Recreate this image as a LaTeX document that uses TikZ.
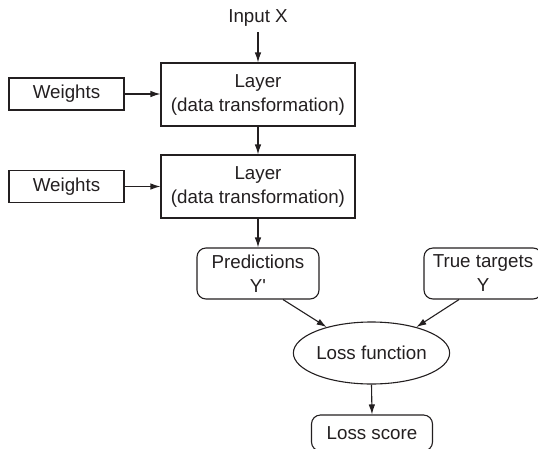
\documentclass[tikz,border=0pt]{standalone}
\usepackage{fontspec}
\setmainfont{Liberation Sans}[Ligatures=TeXOff]
\usetikzlibrary{shapes.geometric,arrows.meta}
\definecolor{ink}{HTML}{231F20}
\begin{document}
\begin{tikzpicture}[x=1pt,y=-1pt,
  every node/.style={font=\fontsize{18.75}{24}\selectfont, text=ink, inner sep=0pt, align=center},
  sqbox/.style={draw=ink, line width=1.1pt, rectangle},
  rbox/.style={draw=ink, line width=1.1pt, rectangle, rounded corners=9pt},
  arr/.style={draw=ink, line width=1.1pt, -{Latex[length=10pt,width=6.5pt]}}]
\clip (0,0) rectangle (538,448);
\node (in) at (258,18) {Input X};
\node[sqbox, minimum width=194pt, minimum height=63pt] (l1) at (258,94.5) {Layer\\(data transformation)};
\node[sqbox, minimum width=194pt, minimum height=63pt] (l2) at (258,186.5) {Layer\\(data transformation)};
\node[sqbox, minimum width=115pt, minimum height=32pt] (w1) at (66.5,94) {Weights};
\node[sqbox, minimum width=115pt, minimum height=32pt] (w2) at (66.5,186.5) {Weights};
\node[rbox, minimum width=122pt, minimum height=51pt] (pr) at (258,273.5) {Predictions\\Y'};
\node[rbox, minimum width=118pt, minimum height=51pt] (tt) at (483,273.5) {True targets\\Y};
\node[draw=ink, line width=1.1pt, ellipse, minimum width=155pt, minimum height=62pt] (lf) at (371.5,353) {Loss function};
\node[rbox, minimum width=121pt, minimum height=36pt] (ls) at (372,433) {Loss score};
\coordinate (inbot) at (258,32);
\draw[arr] (inbot) -- (l1.north);
\draw[arr] (l1.south) -- (l2.north);
\draw[arr] (l2.south) -- (pr.north);
\draw[arr] (w1.east) -- (l1.west |- w1.east);
\draw[arr] (w2.east) -- (l2.west |- w2.east);
\draw[arr] ([xshift=25pt]pr.south) -- (lf.150);
\draw[arr] ([xshift=-24pt]tt.south) -- (lf.30);
\draw[arr] (lf.south) -- (ls.north);
\end{tikzpicture}
\end{document}
